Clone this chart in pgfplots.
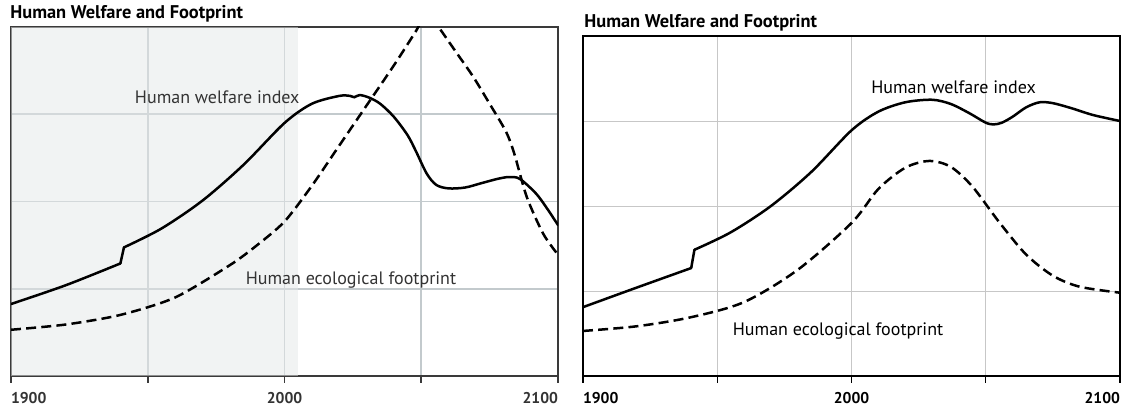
\documentclass[border=0pt]{standalone}
\usepackage{pgfplots}
\pgfplotsset{compat=1.18}
\usepackage{fontspec}
\setmainfont{PT Sans}
\definecolor{gridL}{HTML}{C3CACD}
\definecolor{shadeL}{HTML}{E4E7E7}
\definecolor{frameL}{HTML}{3A3A3A}
\definecolor{txt}{HTML}{333333}
\begin{document}
\begin{tikzpicture}
\path[use as bounding box] (0pt,0pt) rectangle (563pt,206pt);
\node[anchor=north west,inner sep=0pt,font=\fontsize{9.2}{10}\selectfont\bfseries] at (5pt,203.5pt) {Human Welfare and Footprint};
\node[anchor=north west,inner sep=0pt,font=\fontsize{9.2}{10}\selectfont\bfseries] at (292pt,199pt) {Human Welfare and Footprint};
% ---------- left ----------
\begin{axis}[
  at={(5.5pt,18pt)}, anchor=south west,
  scale only axis, width=273.5pt, height=174.5pt,
  xmin=1900, xmax=2100, ymin=0, ymax=4,
  xtick={1900,1950,2000,2050,2100},
  xticklabels={{\makebox[0pt][l]{1900}},{},{2000},{},{\makebox[0pt][r]{2100}}},
  ytick={1,2,3}, yticklabels={}, ytick style={draw=none},
  xtick pos=bottom, tick align=outside, major tick length=3.5pt,
  xtick style={frameL, line width=0.8pt},
  xmajorgrids, ymajorgrids,
  grid style={gridL, line width=0.8pt},
  axis line style={frameL, line width=0.8pt},
  xticklabel style={font=\fontsize{7.8}{9}\selectfont\bfseries, text=txt, yshift=-1pt},
  /pgf/number format/assume math mode=true,
]
\addplot[draw=none, fill=shadeL, fill opacity=0.5] coordinates {(1900,0) (2005,0) (2005,4) (1900,4)} -- cycle;
\addplot[black, line width=1.25pt, smooth, line cap=round] coordinates {
(1900,0.825)(1920,1.04)(1940,1.29)};
\addplot[black, line width=1.25pt, line cap=round] coordinates {(1940,1.29)(1941.3,1.474)};
\addplot[black, line width=1.25pt, smooth, line cap=round] coordinates {
(1941.3,1.474)(1955,1.69)(1970,2.01)(1985,2.42)(2000,2.90)(2010,3.12)(2020,3.21)(2024,3.21)(2025.5,3.195)(2027.5,3.22)(2031,3.19)(2035,3.12)(2040,2.97)(2045,2.76)(2048,2.58)(2052,2.32)(2055.5,2.19)(2060,2.15)(2066,2.16)(2072,2.21)(2078,2.26)(2082,2.28)(2086,2.26)(2092,2.09)(2096,1.92)(2100,1.73)};
\addplot[black, line width=1.25pt, smooth, tension=0.45, dash pattern=on 5pt off 2.6pt] coordinates {
(1900,0.53)(1920,0.59)(1940,0.70)(1960,0.90)(1980,1.27)(1990,1.50)(2000,1.77)(2010,2.18)(2020,2.64)(2030,3.1)(2040,3.56)(2048,3.95)(2052.3,4.17)(2057,3.97)(2063,3.70)(2069,3.43)(2075,3.12)(2081,2.8)(2084,2.55)(2088.6,2.05)(2094.6,1.63)(2100,1.39)};
\node[font=\fontsize{9}{10}\selectfont, text=txt] at (axis cs:1975.4,3.19) {Human welfare index};
\node[font=\fontsize{9}{10}\selectfont, text=txt] at (axis cs:2024.3,1.1) {Human ecological footprint};
\end{axis}
% ---------- right ----------
\begin{axis}[
  at={(291.5pt,18pt)}, anchor=south west,
  scale only axis, width=268.5pt, height=170pt,
  xmin=1900, xmax=2100, ymin=0, ymax=4,
  xtick={1900,1950,2000,2050,2100},
  xticklabels={{\makebox[0pt][l]{1900}},{},{2000},{},{\makebox[0pt][r]{2100}}},
  ytick={1,2,3}, yticklabels={}, ytick style={draw=none},
  xtick pos=bottom, tick align=outside, major tick length=3.5pt,
  xtick style={black, line width=0.6pt},
  xmajorgrids, ymajorgrids,
  grid style={black!22, line width=0.5pt},
  axis line style={black, line width=1pt},
  xticklabel style={font=\fontsize{7.8}{9}\selectfont\bfseries, yshift=-1pt},
  /pgf/number format/assume math mode=true,
]
\addplot[black, line width=1.25pt, smooth, line cap=round] coordinates {
(1900,0.81)(1920,1.04)(1940.3,1.27)};
\addplot[black, line width=1.25pt, line cap=round] coordinates {(1940.3,1.27)(1941.5,1.485)};
\addplot[black, line width=1.25pt, smooth, line cap=round] coordinates {
(1941.5,1.485)(1955,1.69)(1970,2.0)(1985,2.40)(2000,2.89)(2010,3.11)(2020,3.22)(2030,3.25)(2037,3.20)(2044,3.09)(2050,2.98)(2053,2.96)(2056,2.98)(2060,3.05)(2065,3.16)(2070,3.22)(2075,3.21)(2082,3.15)(2090,3.07)(2100,3.0)};
\addplot[black, line width=1.25pt, smooth, dash pattern=on 5pt off 2.6pt] coordinates {
(1900,0.53)(1920,0.585)(1940,0.69)(1960,0.87)(1980,1.25)(2000,1.80)(2010,2.2)(2020,2.45)(2029,2.53)(2037,2.46)(2045,2.23)(2055,1.81)(2065,1.43)(2075,1.18)(2085,1.05)(2100,0.98)};
\node[font=\fontsize{9}{10}\selectfont] at (axis cs:2038,3.4) {Human welfare index};
\node[font=\fontsize{9}{10}\selectfont] at (axis cs:1995,0.53) {Human ecological footprint};
\end{axis}
\end{tikzpicture}
\end{document}
